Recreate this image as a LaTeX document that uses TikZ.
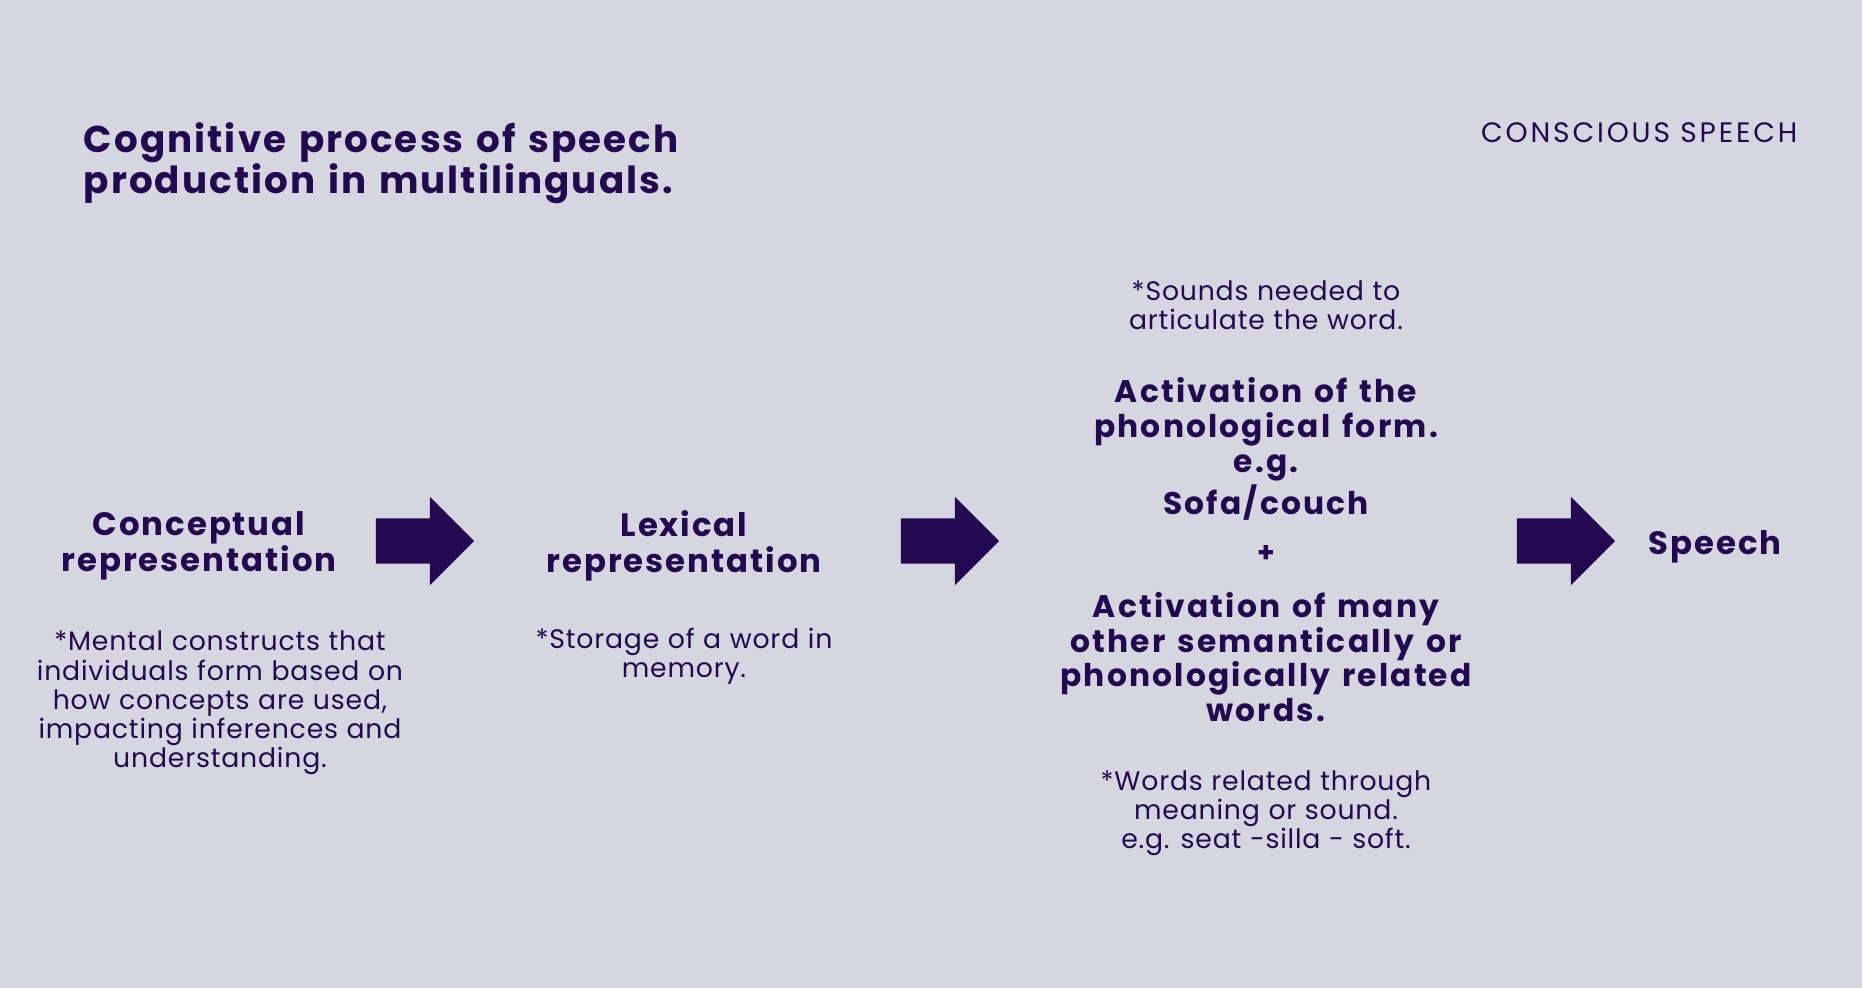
\documentclass[tikz,border=0pt]{standalone}
\usepackage{fontspec}
\setmainfont{Poppins}
\usetikzlibrary{shapes.arrows}

\definecolor{bgpaper}{RGB}{214,214,224}
\definecolor{inkpurple}{RGB}{35,10,80}
\newcommand{\widewords}[1]{\spaceskip=#1em plus 0.1em\relax}

\begin{document}
\begin{tikzpicture}[
    x=0.01cm, y=-0.01cm,
    every node/.style={text=inkpurple, inner sep=0pt},
    steptitle/.style={
        font={\fontsize{9.2}{10.1}\selectfont\bfseries\addfontfeature{LetterSpace=6}\widewords{0.34}},
        align=center
    },
    stepnote/.style={
        font={\fontsize{7.6}{8.3}\selectfont\addfontfeature{LetterSpace=3}\widewords{0.32}},
        align=center
    },
    phonbox/.style={
        font={\fontsize{8.9}{9.9}\selectfont\bfseries\addfontfeature{LetterSpace=7}\widewords{0.38}},
        align=center
    },
    bigarrow/.style={
        single arrow, fill=inkpurple, draw=none, anchor=tip,
        inner xsep=0pt, inner ysep=0.22cm,
        minimum height=0.98cm, minimum width=0.87cm,
        single arrow head extend=0.215cm, single arrow head indent=0pt
    }
]

%% ── Paper ──────────────────────────────────────────────────────────
\fill[bgpaper] (0,0) rectangle (1862,988);
\useasboundingbox (0,0) rectangle (1862,988);

%% ── Heading ────────────────────────────────────────────────────────
\node[anchor=west, align=left,
      font={\fontsize{10.6}{11.7}\selectfont\bfseries\addfontfeature{LetterSpace=5.6}\widewords{0.34}}]
    (title) at (83,163) {Cognitive process of speech\\production in multilinguals.};

\node[anchor=east, font=\fontsize{8}{9}\selectfont\addfontfeature{LetterSpace=10}]
    (mode) at (1798,133) {CONSCIOUS SPEECH};

%% ── Steps ──────────────────────────────────────────────────────────
\node[steptitle] (concept) at (199,546) {Conceptual\\representation};
\node[steptitle] (lexical) at (684,546) {Lexical\\representation};
\node[steptitle] (speech)  at (1715,547) {Speech};

\node[phonbox] (phonform) at (1266,449)
    {Activation of the\\phonological form.\\e.g.\\Sofa/couch};
\node[font=\fontsize{8}{9}\selectfont\bfseries]
    (plus) at (1266,554) {+};
\node[phonbox] (related) at (1266,657)
    {Activation of many\\other semantically or\\phonologically related\\words.};

%% ── Notes ──────────────────────────────────────────────────────────
\node[stepnote] (conceptnote) at (220,703)
    {*Mental constructs that\\individuals form based on\\how concepts are used,\\impacting inferences and\\understanding.};
\node[stepnote] (lexnote) at (684,656)
    {*Storage of a word in\\memory.};
\node[stepnote] (soundnote) at (1266,305)
    {*Sounds needed to\\articulate the word.};
\node[stepnote] (wordnote) at (1266,813)
    {*Words related through\\meaning or sound.\\e.g. seat -silla - soft.};

%% ── Block arrows ───────────────────────────────────────────────────
\node[bigarrow] (arrA) at (475,541) {};
\node[bigarrow] (arrB) at (1000,541) {};
\node[bigarrow] (arrC) at (1616,541) {};

\end{tikzpicture}
\end{document}
